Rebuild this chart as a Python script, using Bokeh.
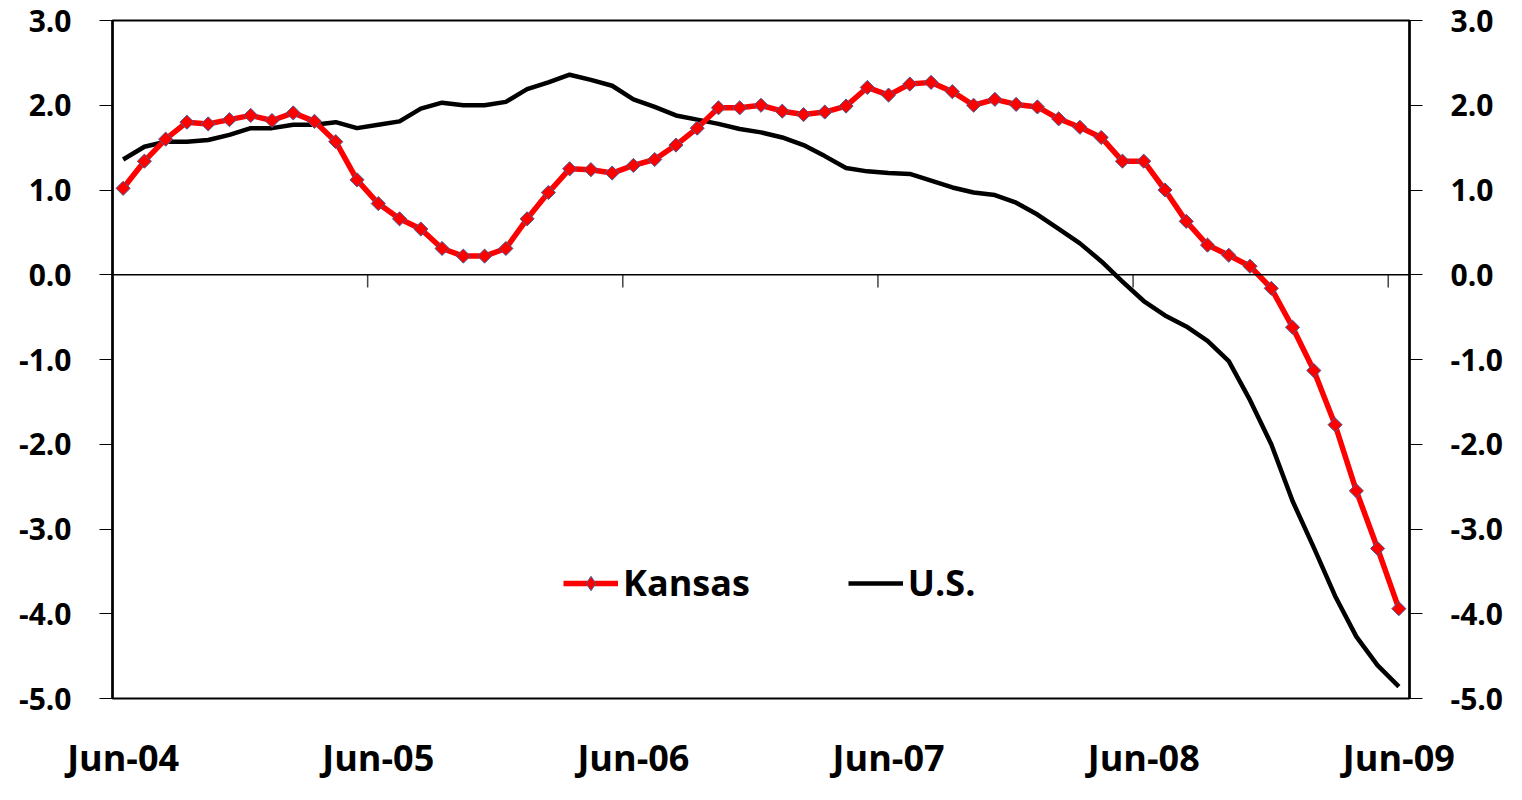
import math
from bokeh.plotting import figure
from bokeh.models import (Range1d, LinearAxis, FixedTicker, NumeralTickFormatter,
                          Span, Legend, LegendItem, ColumnDataSource)
from bokeh.embed import file_html
from bokeh.resources import INLINE

# ---------------- data ----------------
tick_labels = ["Jun-04", "Jun-05", "Jun-06", "Jun-07", "Jun-08", "Jun-09"]
months_per_tick = 12

kansas = [1.02, 1.34, 1.60, 1.80, 1.78, 1.83, 1.88, 1.82, 1.91, 1.81, 1.57, 1.12,
          0.84, 0.66, 0.54, 0.31, 0.22, 0.22, 0.31, 0.66, 0.97, 1.25, 1.24, 1.20,
          1.29, 1.36, 1.53, 1.73, 1.97, 1.97, 2.00, 1.93, 1.89, 1.92, 1.99, 2.21,
          2.12, 2.25, 2.27, 2.16, 2.00, 2.07, 2.01, 1.98, 1.84, 1.74, 1.62, 1.34,
          1.34, 1.00, 0.63, 0.35, 0.23, 0.10, -0.16, -0.62, -1.13, -1.77, -2.55,
          -3.23, -3.94]

us = [1.36, 1.51, 1.57, 1.57, 1.59, 1.65, 1.73, 1.73, 1.77, 1.77, 1.80, 1.73,
      1.77, 1.81, 1.96, 2.03, 2.00, 2.00, 2.04, 2.19, 2.27, 2.36, 2.30, 2.23,
      2.07, 1.98, 1.88, 1.83, 1.78, 1.72, 1.68, 1.62, 1.53, 1.40, 1.26, 1.22,
      1.20, 1.19, 1.11, 1.03, 0.97, 0.94, 0.85, 0.71, 0.54, 0.37, 0.16, -0.08,
      -0.31, -0.48, -0.61, -0.78, -1.02, -1.48, -2.00, -2.67, -3.22, -3.79,
      -4.27, -4.61, -4.86]

y_ticks = [-5, -4, -3, -2, -1, 0, 1, 2, 3]
y_min, y_max = -5, 3

# ---------------- figure ----------------
FONT = "Open Sans"
x = list(range(len(kansas)))
src = ColumnDataSource(dict(x=x, kansas=kansas, us=us))

p = figure(width=1506, height=784, output_backend="svg", toolbar_location=None,
           x_range=Range1d(-0.5, len(kansas) - 0.5),
           y_range=Range1d(y_min, y_max),
           min_border_left=112, min_border_right=96,
           min_border_top=20, min_border_bottom=86)
# an off-screen range, used only to give the legend its diamond swatch
p.extra_y_ranges = {"legend_only": Range1d(1000, 1001)}
p.grid.visible = False
p.outline_line_color = "black"
p.outline_line_width = 2
p.background_fill_color = "white"
p.border_fill_color = "white"


def style_y(ax):
    ax.ticker = FixedTicker(ticks=y_ticks)
    ax.formatter = NumeralTickFormatter(format="0.0")
    ax.axis_line_color = "black"
    ax.axis_line_width = 2.5
    ax.major_tick_out = 13
    ax.major_tick_in = 0
    ax.major_tick_line_color = "black"
    ax.major_tick_line_width = 1
    ax.minor_tick_line_color = None
    ax.major_label_text_font = FONT
    ax.major_label_text_font_size = "30px"
    ax.major_label_text_font_style = "bold"
    ax.major_label_text_color = "black"
    ax.major_label_standoff = 28


style_y(p.yaxis[0])
right_axis = LinearAxis()
style_y(right_axis)
p.add_layout(right_axis, "right")

xa = p.xaxis[0]
label_pos = [months_per_tick * i for i in range(len(tick_labels))]
xa.ticker = FixedTicker(ticks=label_pos)
xa.major_label_overrides = {pos: lab for pos, lab in zip(label_pos, tick_labels)}
xa.axis_line_color = None
xa.major_tick_line_color = None
xa.minor_tick_line_color = None
xa.major_label_text_font = FONT
xa.major_label_text_font_size = "36px"
xa.major_label_text_font_style = "bold"
xa.major_label_text_color = "black"
xa.major_label_standoff = 28

# zero line with category-boundary tick marks
p.add_layout(Span(location=0, dimension="width", line_color="black", line_width=1.5))
bx = [months_per_tick * i - 0.5 for i in range(1, len(tick_labels))]
p.segment(x0=bx, y0=[0] * len(bx), x1=bx, y1=[-0.15] * len(bx),
          line_color="#444444", line_width=1.5)

# series
us_r = p.line("x", "us", source=src, line_color="black", line_width=4.5,
              line_join="round")
ks_line = p.line("x", "kansas", source=src, line_color="#FF0000", line_width=5.5,
                 line_join="round")
ks_pts = p.scatter("x", "kansas", source=src, marker="square", angle=math.pi / 4,
                   size=10, fill_color="#FF0000", line_color="#3F5F9A", line_width=1)
# legend-only diamond (mapped to the off-screen range, so not visible in the plot)
ks_leg = p.scatter("x", "kansas", source=src, y_range_name="legend_only",
                   marker="diamond", size=16,
                   fill_color="#FF0000", line_color="#3F5F9A", line_width=1)

legend = Legend(items=[LegendItem(label="Kansas", renderers=[ks_line, ks_leg]),
                       LegendItem(label="U.S.", renderers=[us_r])],
                orientation="horizontal", location=(451, 91),
                border_line_color=None, background_fill_alpha=0,
                label_text_font=FONT, label_text_font_size="36px",
                label_text_font_style="bold", label_text_color="black",
                glyph_width=55, glyph_height=36, label_standoff=5,
                spacing=98, padding=0, margin=0)
p.add_layout(legend)

open("out.html", "w").write(file_html(p, INLINE))
